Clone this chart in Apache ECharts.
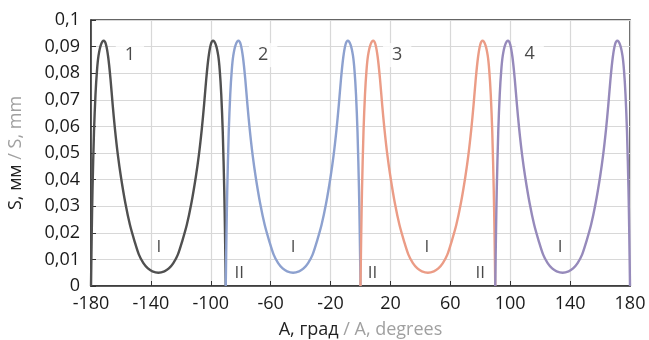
<!DOCTYPE html>
<html>
<head>
<meta charset="utf-8">
<script src="https://cdn.jsdelivr.net/npm/echarts@6/dist/echarts.min.js"></script>
<style>
  html, body { margin: 0; padding: 0; background: #fff; }
  #chart { width: 649px; height: 340px; }
</style>
</head>
<body>
<div id="chart"></div>
<script>
// кривые S(A), значения
const curve1 = [[-180,0],[-179.5,0.02],[-179,0.036],[-178,0.058],[-177,0.072],[-176,0.081],[-175,0.0865],[-173.5,0.0905],[-171.5,0.0922],[-170,0.0908],[-168.5,0.086],[-167,0.078],[-165.5,0.068],[-164,0.059],[-162,0.049],[-160,0.041],[-157,0.031],[-154,0.023],[-151,0.017],[-148,0.0118],[-145,0.0086],[-142,0.0066],[-139,0.0055],[-135,0.005],[-131,0.0055],[-128,0.0066],[-125,0.0086],[-122,0.0118],[-119,0.017],[-116,0.023],[-113,0.031],[-110,0.041],[-108,0.049],[-106,0.059],[-104.5,0.068],[-103,0.078],[-101.5,0.086],[-100,0.0908],[-98.5,0.0922],[-96.5,0.0905],[-95,0.0865],[-94,0.081],[-93,0.072],[-92,0.058],[-91,0.036],[-90.5,0.02],[-90,0]];
const curve2 = [[-90,0],[-89.5,0.02],[-89,0.036],[-88,0.058],[-87,0.072],[-86,0.081],[-85,0.0865],[-83.5,0.0905],[-81.5,0.0922],[-80,0.0908],[-78.5,0.086],[-77,0.078],[-75.5,0.068],[-74,0.059],[-72,0.049],[-70,0.041],[-67,0.031],[-64,0.023],[-61,0.017],[-58,0.0118],[-55,0.0086],[-52,0.0066],[-49,0.0055],[-45,0.005],[-41,0.0055],[-38,0.0066],[-35,0.0086],[-32,0.0118],[-29,0.017],[-26,0.023],[-23,0.031],[-20,0.041],[-18,0.049],[-16,0.059],[-14.5,0.068],[-13,0.078],[-11.5,0.086],[-10,0.0908],[-8.5,0.0922],[-6.5,0.0905],[-5,0.0865],[-4,0.081],[-3,0.072],[-2,0.058],[-1,0.036],[-0.5,0.02],[0,0]];
const curve3 = [[0,0],[0.5,0.02],[1,0.036],[2,0.058],[3,0.072],[4,0.081],[5,0.0865],[6.5,0.0905],[8.5,0.0922],[10,0.0908],[11.5,0.086],[13,0.078],[14.5,0.068],[16,0.059],[18,0.049],[20,0.041],[23,0.031],[26,0.023],[29,0.017],[32,0.0118],[35,0.0086],[38,0.0066],[41,0.0055],[45,0.005],[49,0.0055],[52,0.0066],[55,0.0086],[58,0.0118],[61,0.017],[64,0.023],[67,0.031],[70,0.041],[72,0.049],[74,0.059],[75.5,0.068],[77,0.078],[78.5,0.086],[80,0.0908],[81.5,0.0922],[83.5,0.0905],[85,0.0865],[86,0.081],[87,0.072],[88,0.058],[89,0.036],[89.5,0.02],[90,0]];
const curve4 = [[90,0],[90.5,0.02],[91,0.036],[92,0.058],[93,0.072],[94,0.081],[95,0.0865],[96.5,0.0905],[98.5,0.0922],[100,0.0908],[101.5,0.086],[103,0.078],[104.5,0.068],[106,0.059],[108,0.049],[110,0.041],[113,0.031],[116,0.023],[119,0.017],[122,0.0118],[125,0.0086],[128,0.0066],[131,0.0055],[135,0.005],[139,0.0055],[142,0.0066],[145,0.0086],[148,0.0118],[151,0.017],[154,0.023],[157,0.031],[160,0.041],[162,0.049],[164,0.059],[165.5,0.068],[167,0.078],[168.5,0.086],[170,0.0908],[171.5,0.0922],[173.5,0.0905],[175,0.0865],[176,0.081],[177,0.072],[178,0.058],[179,0.036],[179.5,0.02],[180,0]];

// подписи на поле графика
const curveNames = ['1', '2', '3', '4'];
const curveNamePos = [[-154, 0.0868], [-65, 0.0868], [24.5, 0.0868], [113, 0.0872]];
const zoneIPos = [[-134.7, 0.0146], [-45, 0.0146], [44.4, 0.0146], [133.4, 0.0146]];
const zoneIIPos = [[-81, 0.0048], [8, 0.0048], [80, 0.0048]];

const curves = [curve1, curve2, curve3, curve4];
const curveColors = ['#505050', '#8da1cf', '#eb9c86', '#968abb'];

const chart = echarts.init(document.getElementById('chart'));
const font = 'Open Sans';

const lineSeries = curves.map((c, i) => ({
    type: 'line',
    data: c,
    smooth: 0.3,
    showSymbol: false,
    z: 3,
    lineStyle: { width: 2.4, color: curveColors[i] },
    itemStyle: { color: curveColors[i] }
}));

const textSeries = (pos, names, bg) => ({
    type: 'scatter',
    symbolSize: 0,
    silent: true,
    z: bg ? 2 : 5,
    data: pos.map((p, i) => ({ value: p, name: names[i] })),
    label: {
        show: true,
        position: 'inside',
        formatter: '{b}',
        color: '#1a1a1a',
        fontFamily: font,
        fontSize: bg ? 18 : 17,
        backgroundColor: bg ? '#fff' : 'transparent',
        padding: bg ? [3, 9] : 0
    }
});

const nameRich = {
    a: { fontFamily: font, fontSize: 18, color: '#222' },
    b: { fontFamily: font, fontSize: 18, color: '#a0a0a0' }
};

const option = {
    animation: false,
    grid: {
        left: 91, right: 19, top: 20, bottom: 54,
        outerBoundsMode: 'none',
        show: true, borderColor: '#333', borderWidth: 1.5
    },
    xAxis: {
        type: 'value',
        min: -180, max: 180, interval: 40,
        name: '{a|A, град }{b|/ A, degrees}',
        nameLocation: 'middle',
        nameGap: 35,
        nameTextStyle: { fontFamily: font, fontSize: 18, rich: nameRich },
        axisLine: { onZero: false, lineStyle: { color: '#333', width: 1.5 } },
        axisTick: { inside: true, length: 5, lineStyle: { color: '#333' } },
        axisLabel: { fontFamily: font, fontSize: 18, color: '#1a1a1a', margin: 9 },
        splitLine: { show: true, lineStyle: { color: '#d8d8d8', width: 1.2 } }
    },
    yAxis: {
        type: 'value',
        min: 0, max: 0.1, interval: 0.01,
        name: '{a|S, мм }{b|/ S, mm}',
        nameLocation: 'middle',
        nameRotate: 90,
        nameGap: 66,
        nameTextStyle: { fontFamily: font, fontSize: 18, rich: nameRich },
        axisLine: { show: true, onZero: false, lineStyle: { color: '#333', width: 1.5 } },
        axisTick: { show: true, inside: true, length: 5, lineStyle: { color: '#333' } },
        axisLabel: {
            fontFamily: font, fontSize: 18, color: '#1a1a1a', margin: 11,
            formatter: v => String(Math.round(v * 100) / 100).replace('.', ',')
        },
        splitLine: { show: true, lineStyle: { color: '#d8d8d8', width: 1.2 } }
    },
    series: lineSeries.concat([
        textSeries(curveNamePos, curveNames, true),
        textSeries(zoneIPos, zoneIPos.map(() => 'I'), false),
        textSeries(zoneIIPos, zoneIIPos.map(() => 'II'), false)
    ])
};
chart.setOption(option);
</script>
</body>
</html>
